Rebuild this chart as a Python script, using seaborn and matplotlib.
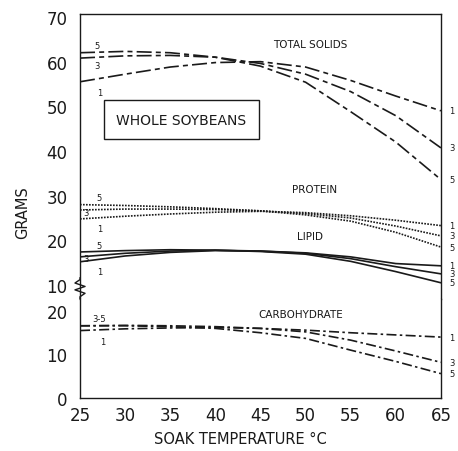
import matplotlib
matplotlib.use("Agg")
import matplotlib.pyplot as plt
import seaborn as sns
import numpy as np
import pandas as pd
from matplotlib.lines import Line2D

sns.set_theme(style="white")
plt.rcParams['font.family'] = ['DejaVu Sans']

# ---- data ----
temps = [25, 30, 35, 40, 45, 50, 55, 60, 65]
soak_hours = ["1", "3", "5"]

solids_1 = [55.5, 57.2, 58.8, 59.8, 60.0, 58.8, 55.8, 52.3, 49.0]
solids_3 = [60.8, 61.3, 61.4, 61.0, 59.6, 57.2, 53.3, 47.9, 40.7]
solids_5 = [62.0, 62.3, 62.0, 61.0, 59.0, 55.4, 48.8, 42.0, 33.6]

protein_1 = [24.8, 25.4, 25.9, 26.3, 26.5, 26.2, 25.5, 24.5, 23.3]
protein_3 = [26.8, 27.0, 27.0, 26.9, 26.6, 26.0, 25.0, 23.2, 21.0]
protein_5 = [28.0, 27.8, 27.5, 27.1, 26.6, 25.7, 24.3, 21.8, 18.5]

lipid_1 = [15.2, 16.5, 17.3, 17.7, 17.6, 17.2, 16.3, 14.8, 14.3]
lipid_3 = [16.3, 17.1, 17.6, 17.8, 17.6, 17.1, 15.9, 14.1, 12.5]
lipid_5 = [17.4, 17.7, 17.9, 17.8, 17.5, 16.9, 15.3, 13.0, 10.5]

carb_1 = [15.5, 15.9, 16.1, 16.2, 16.0, 15.6, 15.0, 14.5, 14.0]
carb_3 = [16.6, 16.7, 16.6, 16.4, 16.0, 15.2, 13.3, 10.8, 8.2]
carb_5 = [16.6, 16.6, 16.4, 16.0, 15.0, 13.7, 11.0, 8.4, 5.6]

upper_yticks = [10, 20, 30, 40, 50, 60, 70]
lower_yticks = [0, 10, 20]
xticks = [25, 30, 35, 40, 45, 50, 55, 60, 65]

ink = "#1a1a1a"

fig = plt.figure(figsize=(4.58, 4.52), dpi=100)
fig.patch.set_facecolor("white")
axu = fig.add_axes([0.1747, 0.3363, 0.788, 0.6305])
axl = fig.add_axes([0.1747, 0.1173, 0.788, 0.219])

styles = {
    "solids": (0, (9, 2.5, 3, 2.5)),
    "protein": (0, (1, 0.8)),
    "lipid": "-",
    "carb": (0, (6, 2, 1.5, 2)),
}

groups = [
    (axu, "solids", [solids_1, solids_3, solids_5]),
    (axu, "protein", [protein_1, protein_3, protein_5]),
    (axu, "lipid", [lipid_1, lipid_3, lipid_5]),
    (axl, "carb", [carb_1, carb_3, carb_5]),
]
for ax, key, series in groups:
    for lab, vals in zip(soak_hours, series):
        df = pd.DataFrame({"temp": temps, "grams": vals})
        sns.lineplot(data=df, x="temp", y="grams", ax=ax, color=ink,
                     linestyle=styles[key], linewidth=1.2)
        ax.annotate(lab, (temps[-1], vals[-1]), xytext=(6, 0),
                    textcoords="offset points", fontsize=6, color=ink,
                    va="center", ha="left", annotation_clip=False)

# left-end labels
left_labels = [
    (axu, solids_5[0], "5", (12, 5)), (axu, solids_3[0], "3", (12, -5)),
    (axu, solids_1[0], "1", (14, -8)),
    (axu, protein_5[0], "5", (14, 5)), (axu, protein_3[0], "3", (4, -2)),
    (axu, protein_1[0], "1", (14, -7)),
    (axu, lipid_5[0], "5", (14, 5)), (axu, lipid_3[0], "3", (4, -1)),
    (axu, lipid_1[0], "1", (14, -7)),
    (axl, carb_3[0], "3-5", (14, 5)), (axl, carb_1[0], "1", (16, -8)),
]
for ax, yv, lab, off in left_labels:
    ax.annotate(lab, (temps[0], yv), xytext=off, textcoords="offset points",
                fontsize=6, color=ink, ha="center", va="center")

# group titles
axu.text(50.5, 64.0, "TOTAL SOLIDS", fontsize=7.5, color=ink, ha="center", va="center")
axu.text(51, 31.5, "PROTEIN", fontsize=7.5, color=ink, ha="center", va="center")
axu.text(50.5, 21.0, "LIPID", fontsize=7.5, color=ink, ha="center", va="center")
axl.text(49.5, 19.4, "CARBOHYDRATE", fontsize=7.5, color=ink, ha="center", va="center")

axu.text(36.2, 47.0, "WHOLE SOYBEANS", fontsize=10, color=ink, ha="center", va="center",
         bbox=dict(boxstyle="square,pad=0.9", fc="white", ec=ink, lw=1.0))

for ax in (axu, axl):
    ax.set_xlim(25, 65)
    ax.set_facecolor("white")
    ax.set_xlabel("")
    ax.set_ylabel("")
    for s in ax.spines.values():
        s.set_color(ink)
        s.set_linewidth(1.0)
    ax.tick_params(direction="in", length=4, width=0.9, colors=ink,
                   labelsize=12, labelcolor=ink)
    ax.tick_params(axis="y", pad=9)

axu.set_ylim(6.87, 70.67)
axu.set_yticks(upper_yticks)
axu.set_xticks([])
axu.spines["bottom"].set_visible(False)

axl.set_ylim(0, 22.76)
axl.set_yticks(lower_yticks)
axl.set_xticks(xticks)
axl.spines["top"].set_visible(False)
axl.tick_params(axis="x", pad=6)

# axis-break zigzag on the left spine
zx = [0.0, 0.0, -0.014, 0.014, -0.014, 0.014, 0.0, 0.0]
zy = [0.075, 0.068, 0.056, 0.044, 0.032, 0.020, 0.008, 0.0]
axu.add_line(Line2D([0, 0], [0.004, 0.072], transform=axu.transAxes, color="white",
                    lw=3, clip_on=False))
axu.add_line(Line2D(zx, zy, transform=axu.transAxes, color=ink, lw=1.0, clip_on=False))

fig.text(0.05, 0.53, "GRAMS", rotation=90, fontsize=10.5, color=ink, ha="center", va="center")
fig.text(0.525, 0.028, "SOAK TEMPERATURE °C", fontsize=10.5, color=ink, ha="center", va="center")

fig.savefig("out.png", dpi=100, facecolor="white")
